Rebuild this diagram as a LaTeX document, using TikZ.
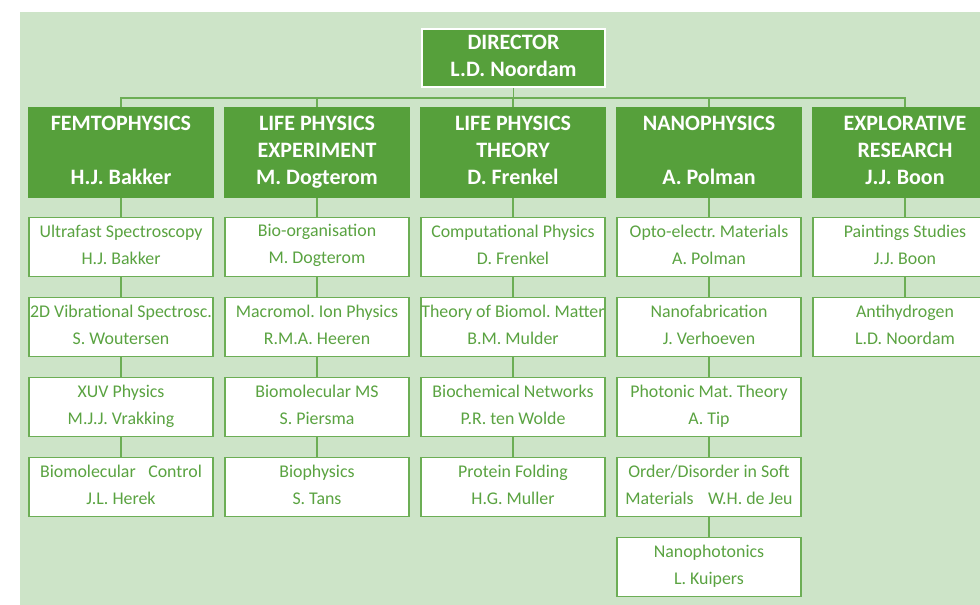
\documentclass[tikz,border=0pt]{standalone}
\usepackage{fontspec}
\setmainfont{Carlito}
\definecolor{bgg}{HTML}{CDE4C8}
\definecolor{headg}{HTML}{56A03B}
\definecolor{lineg}{HTML}{6CAE55}
\definecolor{textg}{HTML}{5AA341}
\newcommand\topstrut{\rule{0pt}{1.45\baselineskip}}
\newcommand\botstrut{\rule[-0.2\baselineskip]{0pt}{0.2\baselineskip}}
\tikzset{
  txtstruts/.style={execute at begin node=\topstrut, execute at end node=\botstrut},
  headbox/.style={fill=headg, draw=none, minimum width=139.5pt, minimum height=68.25pt,
    inner sep=0pt, align=center, text=white, font=\fontsize{16.5}{20.25}\selectfont\bfseries\frenchspacing,
    txtstruts},
  dirbox/.style={fill=headg, draw=white, line width=1.6pt, minimum width=137pt, minimum height=43.5pt,
    inner sep=0pt, align=center, text=white, font=\fontsize{16.5}{20.25}\selectfont\bfseries\frenchspacing,
    txtstruts},
  subbox/.style={fill=white, draw=lineg, line width=1pt, minimum width=138pt, minimum height=44.2pt,
    inner sep=0pt, align=center, text=textg, font=\fontsize{13.4}{20.25}\selectfont\frenchspacing,
    txtstruts},
  conn/.style={draw=lineg, line width=1pt},
}
\begin{document}
\begin{tikzpicture}[x=0.75pt,y=-0.75pt]
\useasboundingbox (0,0) rectangle (980,605);
\clip (0,0) rectangle (980,605);
\fill[bgg] (20,12) rectangle (980,605);
\coordinate (bar) at (513,98);
% director
\node[dirbox] (dir) at (513.5,58) {DIRECTOR\\L.D. Noordam};
% heads
\node[headbox] (h1) at (121,152.5) {FEMTOPHYSICS\\\mbox{}\\H.J. Bakker};
\node[headbox] (h2) at (317,152.5) {LIFE PHYSICS\\EXPERIMENT\\M. Dogterom};
\node[headbox] (h3) at (513,152.5) {LIFE PHYSICS\\THEORY\\D. Frenkel};
\node[headbox] (h4) at (709,152.5) {NANOPHYSICS\\\mbox{}\\A. Polman};
\node[headbox] (h5) at (905,152.5) {EXPLORATIVE\\RESEARCH\\J.J. Boon};
% column 1
\node[subbox] (s11) at (121,247) {Ultrafast Spectroscopy\\H.J. Bakker};
\node[subbox] (s12) at (121,327) {2D Vibrational Spectrosc.\\S. Woutersen};
\node[subbox] (s13) at (121,407) {XUV Physics\\M.J.J. Vrakking};
\node[subbox] (s14) at (121,487) {Biomolecular\hspace{0.7em}Control\\J.L. Herek};
% column 2
\node[subbox] (s21) at (317,247) {Bio-organisation\\M. Dogterom};
\node[subbox] (s22) at (317,327) {Macromol. Ion Physics\\R.M.A. Heeren};
\node[subbox] (s23) at (317,407) {Biomolecular MS\\S. Piersma};
\node[subbox] (s24) at (317,487) {Biophysics\\S. Tans};
% column 3
\node[subbox] (s31) at (513,247) {Computational Physics\\D. Frenkel};
\node[subbox] (s32) at (513,327) {Theory of Biomol. Matter\\B.M. Mulder};
\node[subbox] (s33) at (513,407) {Biochemical Networks\\P.R. ten Wolde};
\node[subbox] (s34) at (513,487) {Protein Folding\\H.G. Muller};
% column 4
\node[subbox] (s41) at (709,247) {Opto-electr. Materials\\A. Polman};
\node[subbox] (s42) at (709,327) {Nanofabrication\\J. Verhoeven};
\node[subbox] (s43) at (709,407) {Photonic Mat. Theory\\A. Tip};
\node[subbox] (s44) at (709,487) {Order/Disorder in Soft\\Materials\hspace{0.8em}W.H. de Jeu};
\node[subbox] (s45) at (709,567) {Nanophotonics\\L. Kuipers};
% column 5
\node[subbox] (s51) at (905,247) {Paintings Studies\\J.J. Boon};
\node[subbox] (s52) at (905,327) {Antihydrogen\\L.D. Noordam};
% connectors
\foreach \h in {h1,h2,h3,h4,h5}
  \draw[conn] (dir.south) -- (dir.south |- bar) -| (\h.north);
\draw[conn] (h1.south) -- (s11.north);
\draw[conn] (s11.south) -- (s12.north);
\draw[conn] (s12.south) -- (s13.north);
\draw[conn] (s13.south) -- (s14.north);
\draw[conn] (h2.south) -- (s21.north);
\draw[conn] (s21.south) -- (s22.north);
\draw[conn] (s22.south) -- (s23.north);
\draw[conn] (s23.south) -- (s24.north);
\draw[conn] (h3.south) -- (s31.north);
\draw[conn] (s31.south) -- (s32.north);
\draw[conn] (s32.south) -- (s33.north);
\draw[conn] (s33.south) -- (s34.north);
\draw[conn] (h4.south) -- (s41.north);
\draw[conn] (s41.south) -- (s42.north);
\draw[conn] (s42.south) -- (s43.north);
\draw[conn] (s43.south) -- (s44.north);
\draw[conn] (s44.south) -- (s45.north);
\draw[conn] (h5.south) -- (s51.north);
\draw[conn] (s51.south) -- (s52.north);
\end{tikzpicture}
\end{document}
